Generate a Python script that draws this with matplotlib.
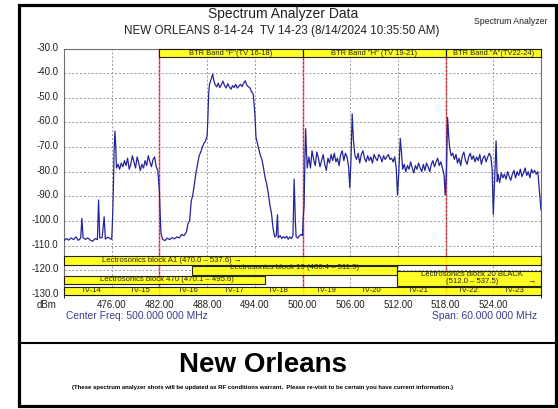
import matplotlib
matplotlib.use("Agg")
import matplotlib.pyplot as plt
import matplotlib.transforms as mtransforms
from matplotlib.patches import Rectangle

# Spectrum trace (MHz, dBm)
freq_mhz = [
    470.0, 470.3, 470.6, 470.9, 471.2, 471.5, 471.8, 472.1, 472.25, 472.4, 472.7, 473.0, 473.3, 473.6,
    473.9, 474.2, 474.35, 474.5, 474.8, 475.05, 475.2, 475.5, 475.8, 476.0, 476.1, 476.2, 476.3, 476.4,
    476.5, 476.6, 476.8, 477.0, 477.2, 477.4, 477.6, 477.8, 478.0, 478.2, 478.4, 478.6, 478.8, 479.0,
    479.2, 479.4, 479.6, 479.8, 480.0, 480.2, 480.4, 480.6, 480.8, 481.0, 481.2, 481.4, 481.6, 481.8,
    481.9, 482.0, 482.1, 482.2, 482.4, 482.7, 483.0, 483.3, 483.6, 483.9, 484.2, 484.5, 484.8, 485.1,
    485.4, 485.6, 485.8, 486.0, 486.2, 486.4, 486.6, 486.8, 487.0, 487.2, 487.4, 487.6, 487.8, 488.0,
    488.1, 488.2, 488.3, 488.5, 488.7, 488.85, 489.0, 489.2, 489.4, 489.6, 489.8, 490.0, 490.2, 490.4,
    490.6, 490.8, 491.0, 491.2, 491.4, 491.6, 491.8, 492.0, 492.2, 492.4, 492.6, 492.8, 493.0, 493.2,
    493.4, 493.6, 493.8, 494.0, 494.15, 494.3, 494.5, 494.7, 494.9, 495.1, 495.3, 495.5, 495.7, 495.9,
    496.1, 496.3, 496.5, 496.7, 496.85, 496.95, 497.2, 497.4, 497.6, 497.8, 498.0, 498.2, 498.4, 498.6,
    498.8, 498.95, 499.1, 499.2, 499.4, 499.6, 499.8, 500.0, 500.1, 500.2, 500.3, 500.4, 500.5, 500.6,
    500.8, 501.0, 501.2, 501.4, 501.6, 501.8, 502.0, 502.2, 502.4, 502.6, 502.8, 503.0, 503.2, 503.4,
    503.6, 503.8, 504.0, 504.2, 504.4, 504.6, 504.8, 505.0, 505.2, 505.4, 505.6, 505.8, 505.95, 506.1,
    506.25, 506.4, 506.6, 506.8, 507.0, 507.2, 507.4, 507.6, 507.8, 508.0, 508.2, 508.4, 508.6, 508.8,
    509.0, 509.2, 509.4, 509.6, 509.8, 510.0, 510.2, 510.4, 510.6, 510.8, 511.0, 511.2, 511.4, 511.6,
    511.8, 511.95, 512.1, 512.3, 512.45, 512.6, 512.8, 513.0, 513.2, 513.4, 513.6, 513.8, 514.0, 514.2,
    514.4, 514.6, 514.8, 515.0, 515.2, 515.4, 515.6, 515.8, 516.0, 516.2, 516.4, 516.6, 516.8, 517.0,
    517.2, 517.4, 517.6, 517.8, 517.95, 518.1, 518.25, 518.4, 518.5, 518.7, 518.9, 519.1, 519.3, 519.5,
    519.7, 519.9, 520.1, 520.3, 520.5, 520.7, 520.9, 521.1, 521.3, 521.5, 521.7, 521.9, 522.1, 522.3,
    522.5, 522.7, 522.9, 523.1, 523.3, 523.5, 523.7, 523.85, 524.0, 524.15, 524.35, 524.5, 524.6, 524.8,
    525.0, 525.2, 525.4, 525.6, 525.8, 526.0, 526.2, 526.4, 526.6, 526.8, 527.0, 527.2, 527.4, 527.6,
    527.8, 528.0, 528.2, 528.4, 528.6, 528.8, 529.0, 529.2, 529.4, 529.6, 529.8, 530.0,
]
level_dbm = [
    -108.0, -107.2, -107.8, -106.9, -107.6, -106.5, -107.9, -107.0, -99.0, -106.8, -107.5, -106.9, -107.8, -108.3,
    -107.2, -107.6, -91.5, -107.0, -106.7, -98.3, -107.4, -106.6, -107.2, -107.5, -100.0, -88.0, -72.0, -63.5,
    -69.0, -78.5, -77.0, -79.0, -76.5, -78.0, -75.5, -77.5, -74.5, -79.0, -77.0, -73.5, -76.0, -78.5,
    -74.0, -76.5, -79.5, -77.0, -78.5, -75.5, -77.5, -73.5, -76.0, -78.0, -75.0, -74.0, -78.0, -79.5,
    -84.0, -88.0, -97.5, -105.0, -107.5, -108.0, -107.0, -107.6, -106.8, -107.3, -106.5, -106.9, -105.5, -106.0,
    -104.5, -101.0, -100.0, -92.0, -89.5, -85.0, -80.5, -77.0, -73.5, -72.0, -70.0, -68.5, -67.5, -65.5,
    -58.0, -48.0, -44.5, -42.5, -40.3, -43.0, -44.5, -45.5, -44.0, -45.8, -44.6, -43.2, -45.0, -46.0,
    -44.2, -45.5, -46.5, -45.0, -45.8, -44.5, -46.0, -45.2, -44.5, -45.4, -44.0, -43.0, -44.8, -45.5,
    -46.0, -47.5, -48.5, -56.0, -66.0, -68.0, -70.5, -73.5, -75.0, -78.5, -82.5, -85.0, -89.0, -93.5,
    -97.0, -103.0, -106.5, -106.0, -97.5, -106.8, -106.0, -107.2, -106.4, -107.0, -106.2, -107.5, -106.5, -107.2,
    -106.0, -83.0, -100.0, -106.5, -107.0, -106.2, -105.5, -106.0, -98.0, -94.0, -75.0, -62.5, -72.0, -78.5,
    -74.0, -78.5, -71.5, -75.0, -77.5, -72.0, -74.5, -78.0, -75.5, -73.0, -77.0, -79.5, -74.5, -76.5,
    -73.0, -75.5, -72.5, -76.0, -74.5, -77.5, -73.0, -71.5, -75.5, -72.5, -74.0, -78.0, -86.5, -75.0,
    -56.5, -67.0, -73.5, -75.0, -72.5, -76.5, -73.0, -71.5, -74.5, -76.0, -73.5, -75.5, -74.0, -76.5,
    -73.0, -74.5, -75.5, -73.0, -74.0, -76.0, -73.5, -75.0, -74.0, -73.0, -75.0, -74.5, -76.0, -74.0,
    -79.0, -89.5, -81.0, -66.5, -72.0, -79.0, -77.0, -80.0, -77.5, -79.0, -76.0, -78.5, -80.5, -77.5,
    -79.0, -76.5, -78.5, -80.0, -77.0, -79.5, -76.5, -78.0, -80.0, -77.0, -75.5, -78.0, -76.0, -74.5,
    -77.5, -76.0, -78.5, -81.0, -89.5, -80.0, -58.0, -66.0, -70.0, -73.5, -72.5, -75.0, -73.0, -76.5,
    -74.5, -77.5, -73.5, -72.0, -75.5, -77.0, -74.0, -72.5, -75.0, -73.5, -76.0, -74.0, -75.5, -73.0,
    -77.0, -74.5, -73.5, -76.0, -74.0, -72.5, -74.0, -79.0, -97.5, -85.0, -67.5, -84.0, -81.0, -84.5,
    -80.5, -82.5, -81.0, -83.0, -80.0, -82.0, -83.5, -81.0, -79.5, -82.5, -80.0, -81.5, -79.0, -82.0,
    -80.5, -78.5, -81.5, -80.0, -82.5, -79.0, -80.5, -79.5, -81.0, -80.0, -88.0, -95.5,
]

# band edges (red lines) and labelled blocks
band_edges = [482, 500, 518]
btr_bands = [(482, 500, 'BTR Band "F"(TV 16-18)'),
             (500, 518, 'BTR Band "H" (TV 19-21)'),
             (518, 530, 'BTR Band "A"(TV22-24)')]
tv_labels = ["TV-14", "TV-15", "TV-16", "TV-17", "TV-18", "TV-19", "TV-20", "TV-21", "TV-22", "TV-23"]
tv_centers = [473.4, 479.6, 485.6, 491.4, 497.0, 503.0, 508.6, 514.6, 520.8, 526.6]

x_ticks = [476, 482, 488, 494, 500, 506, 512, 518, 524]
y_ticks = [-30, -40, -50, -60, -70, -80, -90, -100, -110, -120, -130]

plt.rcParams['font.family'] = ['Liberation Sans', 'DejaVu Sans']
box_font = ['Liberation Sans Narrow', 'Liberation Sans', 'DejaVu Sans']
W, H = 558, 409

fig = plt.figure(figsize=(W / 100, H / 100), dpi=100)
ax = fig.add_axes([64 / W, 114.3 / H, 477 / W, 246 / H])

ax.set_xlim(470, 530)
ax.set_ylim(-130, -30)
ax.set_xticks(x_ticks)
ax.set_xticklabels(["%.2f" % v for v in x_ticks])
ax.set_yticks(y_ticks)
ax.set_yticklabels(["%.1f" % v for v in y_ticks])
ax.tick_params(length=0, labelsize=7.0, colors='#222222', pad=4)
ax.set_xticks([470 + 6 * i for i in range(11)], minor=True)
ax.grid(True, which='both', color='#9a9a9a', linestyle=(0, (2, 2)), linewidth=0.7, zorder=0)
for s in ax.spines.values():
    s.set_color('#6e6e6e')
    s.set_linewidth(0.8)

# y labels sit a touch above their grid lines in the original
shift = mtransforms.ScaledTranslation(0, 2 / 100, fig.dpi_scale_trans)
for lab in ax.get_yticklabels():
    lab.set_transform(lab.get_transform() + shift)

for f in band_edges:
    ax.axvline(f, color='#e8141c', linewidth=1.0, zorder=1)

ax.plot(freq_mhz, level_dbm, color='#24249a', linewidth=0.9, zorder=4)

def box(x0, x1, y0, y1):
    ax.add_patch(Rectangle((x0, y0), x1 - x0, y1 - y0, facecolor='#ffff00', alpha=0.85,
                           edgecolor='black', linewidth=0.8, zorder=3, clip_on=False))

# BTR bands along the top
for x0, x1, label in btr_bands:
    box(x0, x1, -33.5, -30.2)
    ax.text((x0 + x1) / 2, -31.9, label, ha='center', va='center', fontsize=5.4,
            family=box_font, color='#222222', zorder=5)

# Lectrosonics blocks
box(470, 530, -117.8, -114.1)
ax.text(483.6, -115.9, "Lectrosonics block A1 (470.0 \u2013 537.6) \u2192", ha='center', va='center',
        fontsize=5.6, family=box_font, color='#222222', zorder=5)
box(486.1, 511.9, -121.9, -118.2)
ax.text(499.0, -119.0, "Lectrosonics block 19 (486.4 \u2013 511.9)", ha='center', va='center',
        fontsize=5.6, family=box_font, color='#222222', zorder=5)
box(470, 495.3, -125.6, -122.4)
ax.text(482.9, -123.8, "Lectrosonics block 470 (470.1 \u2013 495.6)", ha='center', va='center',
        fontsize=5.6, family=box_font, color='#222222', zorder=5)
box(511.9, 530, -126.3, -120.2)
ax.text(521.3, -121.6, "Lectrosonics block 20 BLACK", ha='center', va='center',
        fontsize=5.6, family=box_font, color='#222222', zorder=5)
ax.text(521.3, -124.6, "(512.0 \u2013 537.5)", ha='center', va='center',
        fontsize=5.6, family=box_font, color='#222222', zorder=5)
ax.text(528.8, -124.6, "\u2192", ha='center', va='center',
        fontsize=6, family=box_font, color='#222222', zorder=5)

# TV channel row
box(470, 530, -130, -126.8)
for c, lab in zip(tv_centers, tv_labels):
    ax.text(c, -128.3, lab, ha='center', va='center', fontsize=5.6,
            family=box_font, color='#222222', zorder=5)

# titles and footer text
fig.text(283 / W, 1 - 14 / H, "Spectrum Analyzer Data", ha='center', va='center', fontsize=10, color='#222222')
fig.text(282 / W, 1 - 31 / H, "NEW ORLEANS 8-14-24  TV 14-23 (8/14/2024 10:35:50 AM)", ha='center',
         va='center', fontsize=8.4, color='#222222')
fig.text(511 / W, 1 - 21 / H, "Spectrum Analyzer", ha='center', va='center', fontsize=6.3, color='#222222')
fig.text(47 / W, 1 - 305 / H, "dBm", ha='center', va='center', fontsize=7.0, color='#222222')
fig.text(66 / W, 1 - 316 / H, "Center Freq: 500.000 000 MHz", ha='left', va='center', fontsize=7.4,
         color='#3c3c8e')
fig.text(537 / W, 1 - 316 / H, "Span: 60.000 000 MHz", ha='right', va='center', fontsize=7.4,
         color='#3c3c8e')
fig.text(263 / W, 1 - 365 / H, "New Orleans", ha='center', va='center', fontsize=20,
         fontweight='bold', color='black')
fig.text(263 / W, 1 - 388 / H, "(These spectrum analyzer shots will be updated as RF conditions warrant.  "
         "Please re-visit to be certain you have current information.)", ha='center', va='center',
         fontsize=4.3, fontweight='bold', color='black')

# black frame and separator
fig.add_artist(Rectangle((19.5 / W, 1 - 406 / H), 536 / W, 401 / H, transform=fig.transFigure,
                         fill=False, edgecolor='black', linewidth=2.3))
fig.add_artist(plt.Line2D([19.5 / W, 555.5 / W], [1 - 343 / H, 1 - 343 / H], transform=fig.transFigure,
                          color='black', linewidth=1.5))

fig.savefig("out.png", dpi=100)
